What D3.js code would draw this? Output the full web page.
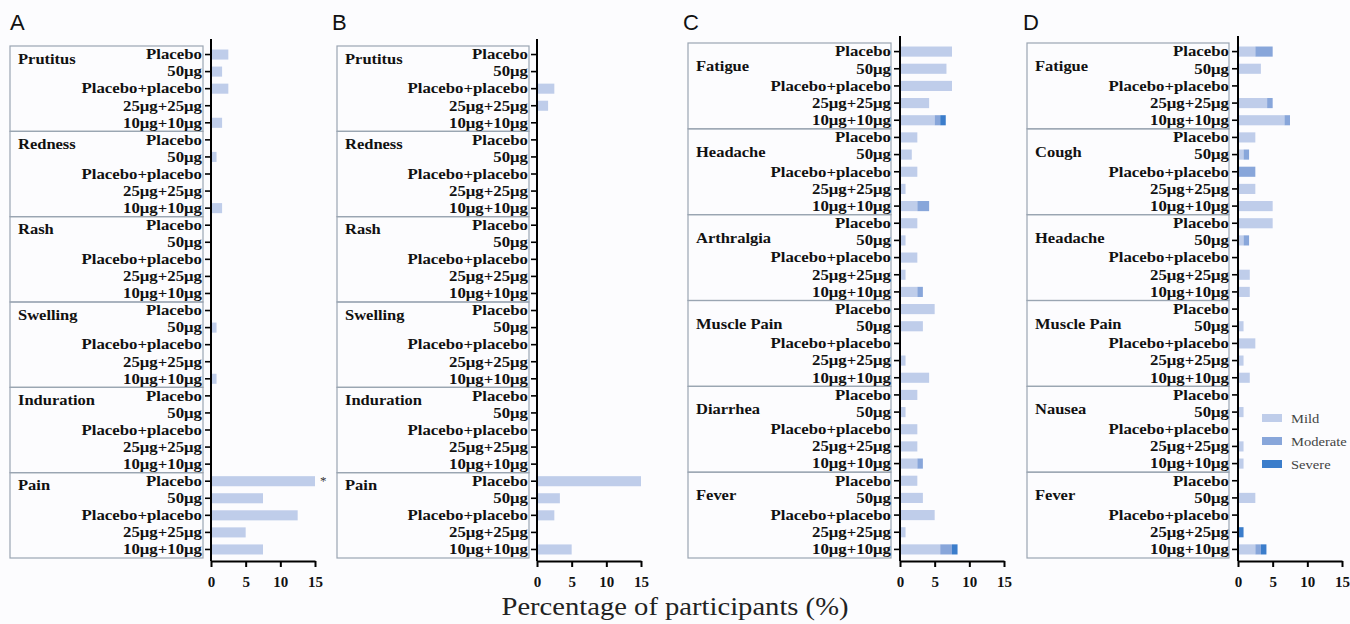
<!DOCTYPE html>
<html>
<head>
<meta charset="utf-8">
<script src="https://cdn.jsdelivr.net/npm/d3@7"></script>
<style>
  body { margin: 0; background: #fcfcfe; }
  svg { display: block; }
</style>
</head>
<body>
<div id="chart"></div>
<script>
"use strict";

// doses shown on every y axis
var doses = ["Placebo", "50μg", "Placebo+placebo", "25μg+25μg", "10μg+10μg"];
var severities = ["mild", "moderate", "severe"];
var severityLabels = ["Mild", "Moderate", "Severe"];
var xTicks = [0, 5, 10, 15];

// A - local reactions after first dose
var groupsA = ["Prutitus", "Redness", "Rash", "Swelling", "Induration", "Pain"];
var mildA = [[2.5, 1.6, 2.5, 0, 1.6], [0, 0.8, 0, 0, 1.6], [0, 0, 0, 0, 0], [0, 0.8, 0, 0, 0.8], [0, 0, 0, 0, 0], [15, 7.5, 12.5, 5, 7.5]];
var moderateA = [[0, 0, 0, 0, 0], [0, 0, 0, 0, 0], [0, 0, 0, 0, 0], [0, 0, 0, 0, 0], [0, 0, 0, 0, 0], [0, 0, 0, 0, 0]];
var severeA = [[0, 0, 0, 0, 0], [0, 0, 0, 0, 0], [0, 0, 0, 0, 0], [0, 0, 0, 0, 0], [0, 0, 0, 0, 0], [0, 0, 0, 0, 0]];

// B - local reactions after second dose
var groupsB = ["Prutitus", "Redness", "Rash", "Swelling", "Induration", "Pain"];
var mildB = [[0, 0, 2.5, 1.6, 0], [0, 0, 0, 0, 0], [0, 0, 0, 0, 0], [0, 0, 0, 0, 0], [0, 0, 0, 0, 0], [15, 3.3, 2.5, 0, 5]];
var moderateB = [[0, 0, 0, 0, 0], [0, 0, 0, 0, 0], [0, 0, 0, 0, 0], [0, 0, 0, 0, 0], [0, 0, 0, 0, 0], [0, 0, 0, 0, 0]];
var severeB = [[0, 0, 0, 0, 0], [0, 0, 0, 0, 0], [0, 0, 0, 0, 0], [0, 0, 0, 0, 0], [0, 0, 0, 0, 0], [0, 0, 0, 0, 0]];

// C - systemic reactions after first dose
var groupsC = ["Fatigue", "Headache", "Arthralgia", "Muscle Pain", "Diarrhea", "Fever"];
var mildC = [[7.5, 6.7, 7.5, 4.2, 5.0], [2.5, 1.7, 2.5, 0.8, 2.5], [2.5, 0.8, 2.5, 0.8, 2.5], [5, 3.3, 0, 0.8, 4.2], [2.5, 0.8, 2.5, 2.5, 2.5], [2.5, 3.3, 5, 0.8, 5.8]];
var moderateC = [[0, 0, 0, 0, 0.8], [0, 0, 0, 0, 1.7], [0, 0, 0, 0, 0.8], [0, 0, 0, 0, 0], [0, 0, 0, 0, 0.8], [0, 0, 0, 0, 1.7]];
var severeC = [[0, 0, 0, 0, 0.8], [0, 0, 0, 0, 0], [0, 0, 0, 0, 0], [0, 0, 0, 0, 0], [0, 0, 0, 0, 0], [0, 0, 0, 0, 0.8]];

// D - systemic reactions after second dose
var groupsD = ["Fatigue", "Cough", "Headache", "Muscle Pain", "Nausea", "Fever"];
var mildD = [[2.5, 3.3, 0, 4.2, 6.7], [2.5, 0.8, 0, 2.5, 5], [5, 0.8, 0, 1.7, 1.7], [0, 0.8, 2.5, 0.8, 1.7], [0, 0.8, 0, 0.8, 0.8], [0, 2.5, 0, 0, 2.5]];
var moderateD = [[2.5, 0, 0, 0.8, 0.8], [0, 0.8, 2.5, 0, 0], [0, 0.8, 0, 0, 0], [0, 0, 0, 0, 0], [0, 0, 0, 0, 0], [0, 0, 0, 0, 0.8]];
var severeD = [[0, 0, 0, 0, 0], [0, 0, 0, 0, 0], [0, 0, 0, 0, 0], [0, 0, 0, 0, 0], [0, 0, 0, 0, 0], [0, 0, 0, 0.8, 0.8]];

var width = 1350;
var height = 624;
var colors = {mild: "#bfcdea", moderate: "#88a6da", severe: "#3b7dcb"};
var serif = "'Liberation Serif', 'Times New Roman', serif";

var svg = d3.select("#chart").append("svg")
	.attr("width", width)
	.attr("height", height);

var panels = [
	{letter: "A", letterX: 10, axisX: 211, boxL: 10, boxR: 203, top: 46, labelDy: 17.5, groups: groupsA, mild: mildA, moderate: moderateA, severe: severeA},
	{letter: "B", letterX: 332, axisX: 537, boxL: 337, boxR: 529, top: 46, labelDy: 17.5, groups: groupsB, mild: mildB, moderate: moderateB, severe: severeB},
	{letter: "C", letterX: 683, axisX: 900, boxL: 688, boxR: 891, top: 43, labelDy: 28, groups: groupsC, mild: mildC, moderate: moderateC, severe: severeC},
	{letter: "D", letterX: 1023, axisX: 1238, boxL: 1027, boxR: 1229, top: 43, labelDy: 28, groups: groupsD, mild: mildD, moderate: moderateD, severe: severeD}
];

var bottom = 558;
var axisY = 561;

panels.forEach(function(p) {
	// one row per group/dose pair
	var rows = [];
	p.groups.forEach(function(g, gi) {
		doses.forEach(function(d, di) {
			rows.push({key: gi + "|" + di, dose: d, mild: p.mild[gi][di], moderate: p.moderate[gi][di], severe: p.severe[gi][di]});
		});
	});

	var x = d3.scaleLinear().domain([0, 15]).range([p.axisX, p.axisX + 104]);
	var y = d3.scaleBand()
		.domain(rows.map(function(r) { return r.key; }))
		.range([p.top, bottom])
		.paddingInner(0.41)
		.paddingOuter(0.205);

	var g = svg.append("g");

	// group boxes
	var step = y.step();
	p.groups.forEach(function(name, gi) {
		var y0 = p.top + gi * 5 * step;
		g.append("rect")
			.attr("x", p.boxL)
			.attr("y", y0)
			.attr("width", p.boxR - p.boxL)
			.attr("height", 5 * step)
			.attr("fill", "none")
			.attr("stroke", "#9aa5b2")
			.attr("stroke-width", 1.2);
		g.append("text")
			.attr("transform", "translate(" + (p.boxL + 8) + "," + (y0 + p.labelDy) + ") scale(1.1,1)")
			.attr("font-family", serif)
			.attr("font-weight", "bold")
			.attr("font-size", 15)
			.attr("fill", "#111")
			.text(name);
	});

	// stacked bars
	var stack = d3.stack().keys(severities)(rows);
	g.selectAll("g.layer")
		.data(stack)
		.enter().append("g")
		.attr("class", "layer")
		.attr("fill", function(d) { return colors[d.key]; })
		.selectAll("rect")
		.data(function(d) { return d; })
		.enter().append("rect")
		.attr("x", function(d) { return x(d[0]); })
		.attr("y", function(d) { return y(d.data.key); })
		.attr("width", function(d) { return x(d[1]) - x(d[0]); })
		.attr("height", y.bandwidth());

	// y axis
	var yAxis = g.append("g")
		.attr("transform", "translate(" + p.axisX + ",0)")
		.call(d3.axisLeft(y).tickSize(6).tickSizeOuter(0)
			.tickFormat(function(k) { return doses[+k.split("|")[1]]; }));
	yAxis.select(".domain").remove();
	yAxis.selectAll(".tick line").attr("stroke", "#000").attr("stroke-width", 1.6);
	yAxis.selectAll(".tick text")
		.attr("x", 0)
		.attr("transform", "translate(-9,0) scale(1.12,1)")
		.attr("font-family", serif)
		.attr("font-weight", "bold")
		.attr("font-size", 15)
		.attr("fill", "#111");
	g.append("line")
		.attr("x1", p.axisX).attr("x2", p.axisX)
		.attr("y1", p.top - 7).attr("y2", axisY)
		.attr("stroke", "#000")
		.attr("stroke-width", 2);

	// x axis
	var xAxis = g.append("g")
		.attr("transform", "translate(0," + axisY + ")")
		.call(d3.axisBottom(x).tickValues(xTicks).tickSize(6).tickSizeOuter(0).tickPadding(9));
	xAxis.select(".domain").attr("stroke", "#000").attr("stroke-width", 2);
	xAxis.selectAll(".tick line").attr("stroke", "#000").attr("stroke-width", 2);
	xAxis.selectAll(".tick text")
		.attr("font-family", serif)
		.attr("font-weight", "bold")
		.attr("font-size", 15)
		.attr("fill", "#111");

	// panel letter
	svg.append("text")
		.attr("x", p.letterX)
		.attr("y", 30)
		.attr("font-family", "'Liberation Sans', Arial, sans-serif")
		.attr("font-size", 22)
		.attr("fill", "#111")
		.text(p.letter);

	p.x = x;
	p.y = y;
	p.rows = rows;
});

// significance mark in A, Pain / Placebo
var pa = panels[0];
svg.append("text")
	.attr("x", pa.x(15) + 5)
	.attr("y", pa.y("5|0") + 9)
	.attr("font-family", serif)
	.attr("font-size", 13)
	.attr("fill", "#333")
	.text("*");

// legend in D
var legend = svg.append("g").attr("transform", "translate(1262,414)");
severities.forEach(function(s, i) {
	legend.append("rect")
		.attr("x", 0)
		.attr("y", i * 23)
		.attr("width", 20)
		.attr("height", 8)
		.attr("fill", colors[s]);
	legend.append("text")
		.attr("transform", "translate(29," + (i * 23 + 8.5) + ") scale(1.12,1)")
		.attr("font-family", serif)
		.attr("font-size", 13)
		.attr("fill", "#444")
		.text(severityLabels[i]);
});

// shared x title
svg.append("text")
	.attr("transform", "translate(675,615) scale(1.1,1)")
	.attr("text-anchor", "middle")
	.attr("font-family", serif)
	.attr("font-size", 26)
	.attr("fill", "#222")
	.text("Percentage of participants (%)");
</script>
</body>
</html>
